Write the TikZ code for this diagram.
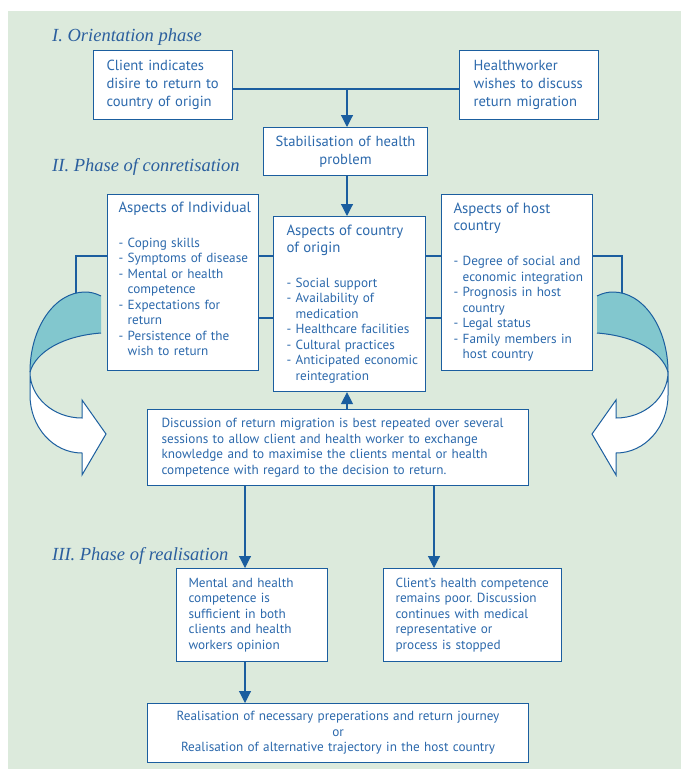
\documentclass[tikz,border=0pt]{standalone}
\usepackage{fontspec}
\newfontfamily\dinfont{PT Sans}
\newfontfamily\headfont{Liberation Serif}
\usetikzlibrary{arrows.meta,calc}
\definecolor{bggreen}{HTML}{DCEADC}
\definecolor{lineblue}{HTML}{1B5E9F}
\definecolor{txtblue}{HTML}{2C69AC}
\definecolor{headblue}{HTML}{2B5F9E}
\definecolor{arrowteal}{HTML}{82C7CE}
\frenchspacing
\newcommand\nb{\parindent=0pt\rightskip=-40pt plus 1fil\relax}
\newcommand\ind{\hphantom{- }}
\newcommand\ttl{\fontsize{14.8}{17}\selectfont}
\tikzset{
  box/.style={draw=lineblue, line width=1.1pt, fill=white, text=txtblue,
    inner ysep=0pt, anchor=north west, align=left,
    font=\dinfont\fontsize{13.2}{15.5}\selectfont},
  bigtext/.style={font=\dinfont\fontsize{14.6}{18}\selectfont},
  phase/.style={anchor=base west, text=headblue, inner sep=0pt,
    font=\headfont\itshape\fontsize{18.5}{21}\selectfont},
  conn/.style={draw=lineblue, line width=1.1pt},
  arr/.style={conn, -{Triangle[width=12pt,length=12pt]}},
  ribbon/.style={draw=lineblue, line width=1pt},
}
\newcommand\curvedarrow{%
  \fill[arrowteal] (101,296) .. controls (95,293) and (90,292) .. (85,292)
     .. controls (54.6,292) and (30,327.8) .. (30,372)
     .. controls (36,352) and (62,336) .. (101,333) -- cycle;
  \draw[ribbon] (101,296) .. controls (95,293) and (90,292) .. (85,292)
     .. controls (54.6,292) and (30,327.8) .. (30,372);
  \draw[ribbon] (30,372) .. controls (36,352) and (62,336) .. (101,333);
  \draw[ribbon, fill=white] (30,372) -- (30,395) .. controls (30,427) and (53,453) .. (82,453)
     -- (82,475) -- (106,434) -- (82,400) -- (82,418)
     .. controls (53,418) and (30,397) .. (30,372) -- cycle;
}
\begin{document}
\begin{tikzpicture}[x=1pt,y=-1pt]
\useasboundingbox (0,0) rectangle (681,769);
\fill[bggreen] (8,11) rectangle (681,769);

% phase headings
\node[phase] (p1) at (52,41) {I. Orientation phase};
\node[phase] (p2) at (52,171) {II. Phase of conretisation};
\node[phase] (p3) at (52,560) {III. Phase of realisation};

% top boxes
\node[box, bigtext, inner xsep=13pt, text width=113pt, minimum height=69pt] (client) at (93,50)
  {\nb Client indicates\\disire to return to\\country of origin};
\node[box, bigtext, inner xsep=14pt, text width=111pt, minimum height=69pt] (health) at (459,50)
  {\nb Healthworker\\wishes to discuss\\return migration};
\node[box, bigtext, align=center, inner xsep=7pt, text width=150pt, minimum height=48pt] (stab) at (263,127)
  {Stabilisation of health\\problem};

% aspects boxes
\node[box, inner xsep=11pt, text width=129pt, minimum height=176pt] (indiv) at (107,194)
  {\nb{\ttl Aspects of Individual\par}\vspace{19.5pt}%
   - Coping skills\\- Symptoms of disease\\- Mental or health\\\ind competence\\- Expectations for\\\ind return\\- Persistence of the\\\ind wish to return\\[-13pt]\strut};
\node[box, inner xsep=13pt, text width=126pt, minimum height=175pt] (country) at (273,216)
  {\nb{\ttl Aspects of country\\of origin\par}\vspace{19.5pt}%
   - Social support\\- Availability of\\\ind medication\\- Healthcare facilities\\- Cultural practices\\- Anticipated economic\\\ind reintegration};
\node[box, inner xsep=12pt, text width=127pt, minimum height=176pt] (host) at (441,194)
  {\nb{\ttl Aspects of host\\country\par}\vspace{19.5pt}%
   - Degree of social and\\\ind economic integration\\- Prognosis in host\\\ind country\\- Legal status\\- Family members in\\\ind host country};

% discussion
\node[box, inner xsep=14pt, text width=353pt, minimum height=76pt] (disc) at (147,409)
  {\nb Discussion of return migration is best repeated over several\\sessions to allow client and health worker to exchange\\knowledge and to maximise the clients mental or health\\competence with regard to the decision to return.};

% realisation
\node[box, inner xsep=12pt, text width=127pt, minimum height=93pt] (mental) at (176,568)
  {\nb Mental and health\\competence is\\sufficient in both\\clients and health\\workers opinion};
\node[box, inner xsep=12pt, text width=154pt, minimum height=93pt] (poor) at (383,568)
  {\nb Client’s health competence\\remains poor. Discussion\\continues with medical\\representative or\\process is stopped};
\node[box, align=center, inner xsep=10pt, text width=361pt, minimum height=59pt] (final) at (147,703)
  {Realisation of necessary preperations and return journey\\or\\Realisation of alternative trajectory in the host country};

% helper coordinates
\coordinate (j) at (347,89);
\coordinate (xa) at (245,0);
\coordinate (xb) at (434,0);
\coordinate (ya) at (0,256);
\coordinate (yb) at (0,318);
\coordinate (ltop) at (76,292.5);
\coordinate (rtop) at (622,292.5);

% connectors
\draw[conn] (client.east |- j) -- (health.west |- j);
\draw[arr] (j) -- (j |- stab.north);
\draw[arr] (stab.south -| j) -- (country.north -| j);
\draw[conn] (indiv.east |- ya) -- (country.west |- ya);
\draw[conn] (indiv.east |- yb) -- (country.west |- yb);
\draw[conn] (country.east |- ya) -- (host.west |- ya);
\draw[conn] (country.east |- yb) -- (host.west |- yb);
\draw[conn] (indiv.west |- ya) -| (ltop);
\draw[conn] (host.east |- ya) -| (rtop);
\draw[arr] (disc.north -| j) -- (country.south -| j);
\draw[arr] (disc.south -| xa) -- (mental.north -| xa);
\draw[arr] (disc.south -| xb) -- (poor.north -| xb);
\draw[arr] (mental.south -| xa) -- (final.north -| xa);

% curved arrows
\curvedarrow
\begin{scope}[shift={(698,0)}, xscale=-1]
\curvedarrow
\end{scope}
\end{tikzpicture}
\end{document}
